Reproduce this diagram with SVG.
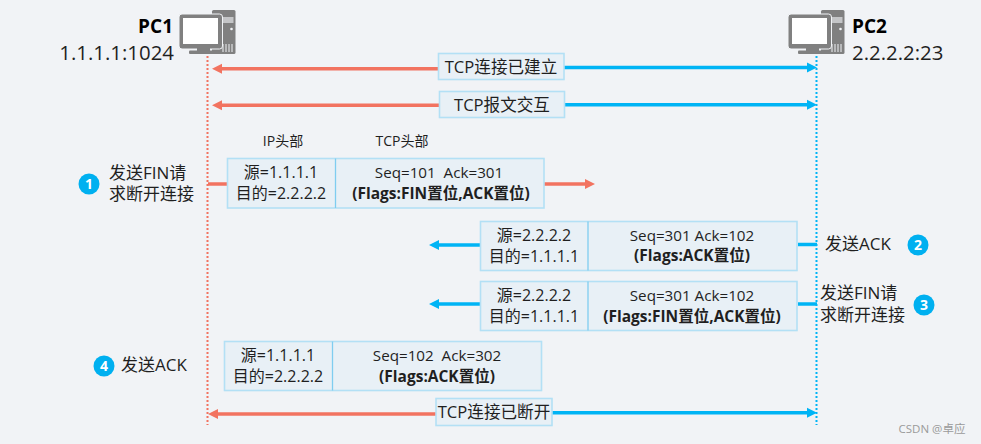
<svg xmlns="http://www.w3.org/2000/svg" width="981" height="444" viewBox="0 0 981 444">
<style>
text{font-family:"Open Sans","Noto Sans CJK SC","Noto Sans",sans-serif;fill:#1f1f1f}
.t16{font-size:16px}.t15{font-size:15.200px}.t17{font-size:17px}.t165{font-size:16.600px}.t14{font-size:14px}.b{font-weight:700;font-size:15.500px}.c{text-anchor:middle}
.box{fill:#e8f0f6;stroke:#b3e0f5;stroke-width:1.6}
.div{stroke:#7fcdf0;stroke-width:1.3}
.r{stroke:#f27360;stroke-width:3.5;fill:none}
.u{stroke:#00b4f5;stroke-width:3.5;fill:none}
.lr{stroke:#f27360;stroke-width:2;stroke-dasharray:2 2}
.lu{stroke:#00b4f5;stroke-width:2;stroke-dasharray:2 2}
.num{fill:#00b0f0}.numt{fill:#fff;font-weight:700;font-size:14px;text-anchor:middle}
.g{fill:#808080}
</style>
<defs>
<marker id="ar" markerUnits="userSpaceOnUse" markerWidth="12" markerHeight="12" refX="4" refY="6" orient="auto"><path d="M0 1L10 6L0 11z" fill="#f27360"/></marker>
<marker id="au" markerUnits="userSpaceOnUse" markerWidth="12" markerHeight="12" refX="4" refY="6" orient="auto"><path d="M0 1L10 6L0 11z" fill="#00b4f5"/></marker>
<g id="pc">
<rect class="g" x="212" y="10" width="23.500" height="44" rx="1.500"/>
<rect x="222.500" y="17" width="11" height="6" fill="#f1f3f6" opacity=".6"/>
<circle cx="231.500" cy="29" r="1.300" fill="#f1f3f6"/>
<path d="M223 52V44M226 52V44M229 52V44M232 52V44" stroke="#f1f3f6" stroke-width="1"/>
<rect class="g" x="179" y="14" width="43.500" height="35" rx="3" stroke="#f1f3f6" stroke-width="1"/>
<rect x="183" y="18" width="35" height="26" fill="#fff"/>
<rect class="g" x="197" y="47" width="13" height="4"/>
<rect class="g" x="189" y="50.500" width="31" height="3.500" rx="1"/>
</g>
</defs>
<rect width="981" height="444" fill="#f1f3f6"/>
<g id="connectors">
<line class="lr" x1="207.500" y1="48" x2="207.500" y2="425"/>
<line class="lu" x1="816.500" y1="48" x2="816.500" y2="425"/>
<line class="r" x1="438" y1="68.800" x2="218" y2="68.800" marker-end="url(#ar)"/>
<line class="u" x1="564" y1="67.500" x2="811" y2="67.500" marker-end="url(#au)"/>
<line class="r" x1="439" y1="105.300" x2="218" y2="105.300" marker-end="url(#ar)"/>
<line class="u" x1="564" y1="104.700" x2="811" y2="104.700" marker-end="url(#au)"/>
<line class="r" x1="208" y1="184" x2="227" y2="184"/>
<line class="r" x1="544" y1="184" x2="589" y2="184" marker-end="url(#ar)"/>
<line class="u" x1="480" y1="245" x2="435" y2="245" marker-end="url(#au)"/>
<line class="u" x1="798" y1="244.500" x2="817" y2="244.500"/>
<line class="u" x1="480" y1="304" x2="435" y2="304" marker-end="url(#au)"/>
<line class="u" x1="798" y1="304" x2="817" y2="304"/>
<line class="r" x1="437" y1="414" x2="214" y2="414" marker-end="url(#ar)"/>
<line class="u" x1="552" y1="412.800" x2="811" y2="412.800" marker-end="url(#au)"/>
</g>
<g id="pc1"><use href="#pc"/>
<text x="173" y="33" text-anchor="end" font-size="19" font-weight="700" style="fill:#000">PC1</text>
<text x="174" y="60" text-anchor="end" font-size="20.400">1.1.1.1:1024</text></g>
<g id="pc2"><use href="#pc" x="609"/>
<text x="852" y="33" font-size="19" font-weight="700" style="fill:#000">PC2</text>
<text x="852" y="60" font-size="20.400">2.2.2.2:23</text></g>
<g id="est"><rect class="box" x="438.500" y="53.500" width="125.500" height="26"/><text class="t165 c" x="501" y="72.500">TCP连接已建立</text></g>
<g id="exch"><rect class="box" x="439.500" y="91.500" width="125" height="26"/><text class="t165 c" x="502" y="110.500">TCP报文交互</text></g>
<g id="hdr"><text class="t14 c" x="283" y="146">IP头部</text><text class="t14 c" x="402" y="146">TCP头部</text></g>
<g id="pkt1"><rect class="box" x="227.500" y="158.500" width="316.500" height="49.500"/><line class="div" x1="335.500" y1="158.500" x2="335.500" y2="208"/>
<text class="t16 c" x="281" y="178">源=1.1.1.1</text><text class="t16 c" x="281" y="199">目的=2.2.2.2</text>
<text class="t15 c" x="439" y="178" xml:space="preserve">Seq=101  Ack=301</text><text class="b c" x="441" y="199">(Flags:FIN置位,ACK置位)</text></g>
<g id="pkt2"><rect class="box" x="480.500" y="221.500" width="316.500" height="49"/><line class="div" x1="588" y1="221.500" x2="588" y2="270.500"/>
<text class="t16 c" x="534" y="241">源=2.2.2.2</text><text class="t16 c" x="534" y="262">目的=1.1.1.1</text>
<text class="t15 c" x="692" y="241">Seq=301 Ack=102</text><text class="b c" x="692" y="261">(Flags:ACK置位)</text></g>
<g id="pkt3"><rect class="box" x="480.500" y="281.500" width="316.500" height="49"/><line class="div" x1="588" y1="281.500" x2="588" y2="330.500"/>
<text class="t16 c" x="534" y="301">源=2.2.2.2</text><text class="t16 c" x="534" y="322">目的=1.1.1.1</text>
<text class="t15 c" x="692" y="301">Seq=301 Ack=102</text><text class="b c" x="692" y="322">(Flags:FIN置位,ACK置位)</text></g>
<g id="pkt4"><rect class="box" x="224.500" y="341.500" width="317" height="49"/><line class="div" x1="332.500" y1="341.500" x2="332.500" y2="390.500"/>
<text class="t16 c" x="278" y="361">源=1.1.1.1</text><text class="t16 c" x="278" y="382">目的=2.2.2.2</text>
<text class="t15 c" x="437" y="361" xml:space="preserve">Seq=102  Ack=302</text><text class="b c" x="437" y="382">(Flags:ACK置位)</text></g>
<g id="closed"><rect class="box" x="436" y="398.500" width="116" height="27"/><text class="t165 c" x="494" y="418">TCP连接已断开</text></g>
<g id="s1"><circle class="num" cx="89" cy="184" r="10.500"/><text class="numt" x="89" y="189">1</text>
<text class="t17" x="109" y="179">发送FIN请</text><text class="t17" x="109" y="200">求断开连接</text></g>
<g id="s2"><circle class="num" cx="918" cy="245" r="10.500"/><text class="numt" x="918" y="250">2</text>
<text class="t17" x="825" y="250">发送ACK</text></g>
<g id="s3"><circle class="num" cx="924" cy="305" r="10.500"/><text class="numt" x="924" y="310">3</text>
<text class="t17" x="820" y="299">发送FIN请</text><text class="t17" x="820" y="321">求断开连接</text></g>
<g id="s4"><circle class="num" cx="104" cy="366" r="10.500"/><text class="numt" x="104" y="371">4</text>
<text class="t17" x="121" y="371">发送ACK</text></g>
<text x="932" y="433" text-anchor="middle" font-size="11.500" style="fill:#9a9a9a">CSDN @卓应</text>
</svg>
